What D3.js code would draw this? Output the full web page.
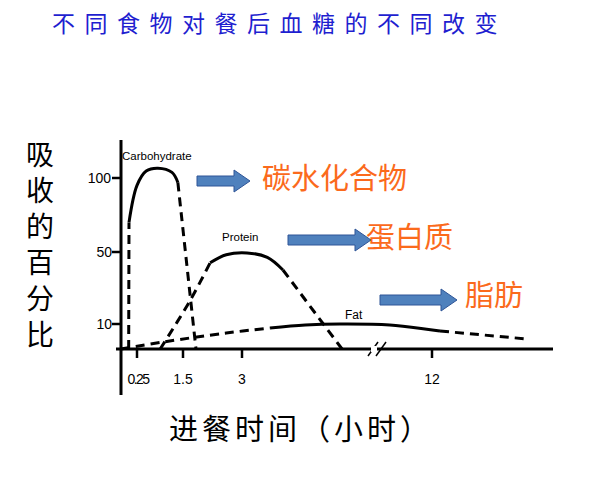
<!DOCTYPE html><html><head><meta charset="utf-8"><script src="https://cdn.jsdelivr.net/npm/d3@7"></script>
<style>body{margin:0;background:#fff}</style></head><body><svg id="c" width="591" height="482"></svg>
<script>
const xTicks=[0.25,1.5,3,12];
const yTicks=[10,50,100];
const carbDash1=[[0.12,0],[0.125,70]];
const carbSolid=[[0.125,70],[0.25,95],[0.5,105],[0.82,107],[1.2,104],[1.36,97]];
const carbDash2=[[1.36,97],[1.83,0]];
const protDash1=[[0.88,0],[1.68,23],[2.19,44]];
const protSolid=[[2.19,44],[2.6,48.5],[3.24,49.5],[4.2,47],[4.94,40]];
const protDash2=[[4.94,40],[7.74,0]];
const fatDash1=[[0,0],[0.96,2.8],[2.6,6.4],[4.33,8.4]];
const fatSolid=[[4.33,8.4],[6,9.6],[7.64,10],[10,9.6],[12.38,7.2]];
const fatDash2=[[12.38,7.2],[16.5,4]];
const seriesNames=["Carbohydrate","Protein","Fat"];
const cnNames=["碳水化合物","蛋白质","脂肪"];
const svg=d3.select("#c");
const x=d3.scaleLinear().domain([0,0.25,1.5,3,12,16.5]).range([121,137,183,242,432,527]);
const y=d3.scaleLinear().domain([0,10,50,100,110]).range([349,324,252,178,164]);
svg.append("text").attr("x",52).attr("y",32).attr("font-size",23).attr("letter-spacing",9.5).attr("fill","#1f1fd0").attr("font-family","Noto Sans CJK SC").text("不同食物对餐后血糖的不同改变");
[[carbDash1,1],[carbSolid,0],[carbDash2,1],[protDash1,1],[protSolid,0],[protDash2,1],[fatDash1,1],[fatSolid,0],[fatDash2,1]].forEach(s=>{
 svg.append("path").attr("d",d3.line().x(d=>x(d[0])).y(d=>y(d[1])).curve(s[0].length>2?d3.curveCatmullRom:d3.curveLinear)(s[0])).attr("fill","none").attr("stroke","#000").attr("stroke-width",3).attr("stroke-dasharray",s[1]?"9,6":null);});
svg.append("line").attr("x1",121).attr("x2",121).attr("y1",140).attr("y2",395).attr("stroke","#000").attr("stroke-width",3);
svg.append("line").attr("x1",116).attr("x2",553).attr("y1",349).attr("y2",349).attr("stroke","#000").attr("stroke-width",3);
yTicks.forEach(t=>{svg.append("line").attr("x1",112).attr("x2",121).attr("y1",y(t)).attr("y2",y(t)).attr("stroke","#000").attr("stroke-width",2.5);
 svg.append("text").attr("x",t==100?111:112).attr("y",y(t)+5).attr("text-anchor","end").attr("font-size",14).attr("font-family","Liberation Sans").text(t);});
xTicks.forEach(t=>{svg.append("line").attr("x1",x(t)).attr("x2",x(t)).attr("y1",349).attr("y2",358).attr("stroke","#000").attr("stroke-width",2.5);
 svg.append("text").attr("x",x(t)+(t==0.25?1:0)).attr("y",384).attr("text-anchor","middle").attr("font-size",14).attr("letter-spacing",t==0.25?-1.5:0).attr("font-family","Liberation Sans").text(t);});
[372,380].forEach(b=>{svg.append("line").attr("x1",b-4).attr("x2",b+6).attr("y1",356).attr("y2",342).attr("stroke","#000").attr("stroke-width",1.5);});
svg.append("rect").attr("x",371).attr("y",346).attr("width",6).attr("height",6).attr("fill","#fff");
const lab=[[122,160],[222,241],[345,319]];
seriesNames.forEach((n,i)=>svg.append("text").attr("x",lab[i][0]).attr("y",lab[i][1]).attr("font-size",i==2?12:11.5).attr("font-family","Liberation Sans").text(n));
const arrows=[[197,250,181],[288,371,240],[380,457,300]];
arrows.forEach(a=>{const [x0,x1,yc]=a;const h=x1-16;
 svg.append("path").attr("d",`M${x0},${yc-5}H${h}V${yc-11}L${x1},${yc}L${h},${yc+11}V${yc+5}H${x0}Z`).attr("fill","#4f81bd").attr("stroke","#2f5597").attr("stroke-width",1);});
const cnPos=[[262,189],[366,248],[465,306]];
cnNames.forEach((n,i)=>svg.append("text").attr("x",cnPos[i][0]).attr("y",cnPos[i][1]).attr("font-size",29).attr("fill","#fb6a1c").attr("font-family","Noto Sans CJK SC").text(n));
"吸收的百分比".split("").forEach((c,i)=>svg.append("text").attr("x",40).attr("y",165+i*36).attr("text-anchor","middle").attr("font-size",28).attr("font-family","Noto Sans CJK SC").text(c));
svg.append("text").attr("x",301).attr("y",440).attr("text-anchor","middle").attr("font-size",29).attr("letter-spacing",4).attr("font-family","Noto Sans CJK SC").text("进餐时间（小时）");
</script></body></html>
